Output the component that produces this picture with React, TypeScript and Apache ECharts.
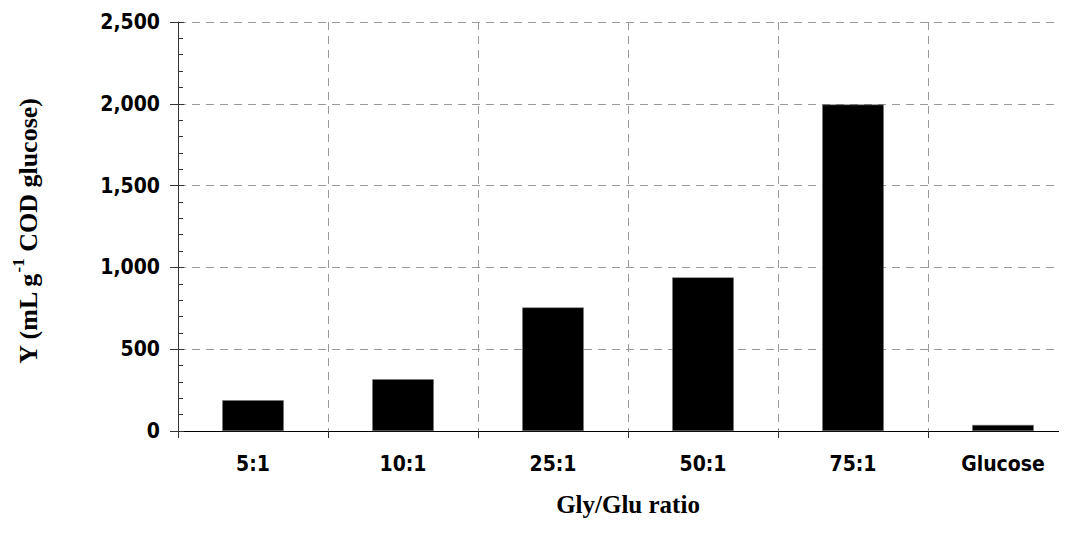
import React, { useEffect, useRef } from "react";
import * as echarts from "echarts";

const categories = ["5:1", "10:1", "25:1", "50:1", "75:1", "Glucose"];
const values = [188, 316, 755, 939, 1995, 37];
const yTicks = [0, 500, 1000, 1500, 2000, 2500];

const fmt = (v: number) => v.toLocaleString("en-US");

export default function App() {
  const ref = useRef<HTMLDivElement>(null);
  useEffect(() => {
    if (!ref.current) return;
    const chart = echarts.init(ref.current, undefined, { renderer: "svg" });
    const labelFont = {
      fontFamily: "'DejaVu Sans Condensed', 'DejaVu Sans'",
      fontWeight: "bold" as const,
      fontSize: 21,
      color: "#000",
    };
    chart.setOption({
      animation: false,
      backgroundColor: "#fff",
      grid: { left: 178, top: 22, right: 0, bottom: 105, containLabel: false },
      xAxis: [
        {
          type: "category",
          data: categories,
          position: "bottom",
          axisLine: { show: true, lineStyle: { color: "#000", width: 1 } },
          axisTick: { show: true, length: 7, lineStyle: { color: "#333" } },
          axisLabel: { ...labelFont, margin: 22 },
          splitLine: {
            show: true,
            lineStyle: { color: "#999", type: [8, 6], width: 1 },
          },
          name: "Gly/Glu ratio",
          nameLocation: "middle",
          nameGap: 61,
          nameTextStyle: {
            fontFamily: "Liberation Serif",
            fontWeight: "bold",
            fontSize: 25,
            color: "#000",
          },
        },
        {
          type: "category",
          data: categories,
          position: "top",
          axisLine: { show: true, lineStyle: { color: "#000", width: 1 } },
          axisTick: { show: false },
          axisLabel: { show: false },
          splitLine: { show: false },
        },
      ],
      yAxis: [
        {
          type: "value",
          min: 0,
          max: 2500,
          interval: 500,
          axisLine: { show: true, lineStyle: { color: "#333", width: 1 } },
          axisTick: { show: true, length: 8, lineStyle: { color: "#333" } },
          axisLabel: {
            ...labelFont,
            margin: 18,
            formatter: (v: number) => (yTicks.includes(v) ? fmt(v) : ""),
          },
          splitLine: {
            show: true,
            lineStyle: { color: "#999", type: [8, 6], width: 1 },
          },
          name: "{a|Y (mL g}{s|-1}{a| COD glucose)}",
          nameLocation: "middle",
          nameGap: 137,
          nameRotate: 90,
          nameTextStyle: {
            fontFamily: "Liberation Serif",
            fontWeight: "bold",
            fontSize: 26,
            color: "#000",
            padding: [0, 10, 0, 0],
            rich: {
              a: {
                fontFamily: "Liberation Serif",
                fontWeight: "bold",
                fontSize: 26,
                color: "#000",
                lineHeight: 31,
                verticalAlign: "bottom",
              },
              s: {
                fontFamily: "Liberation Serif",
                fontWeight: "bold",
                fontSize: 17,
                color: "#000",
                lineHeight: 31,
                verticalAlign: "top",
              },
            },
          },
        },
        {
          type: "value",
          min: 0,
          max: 2500,
          interval: 500,
          position: "left",
          axisLine: { show: false },
          axisTick: { show: true, inside: true, length: 6, lineStyle: { color: "#333" } },
          minorTick: { show: true, splitNumber: 5, length: 5, lineStyle: { color: "#333" } },
          axisLabel: { show: false },
          splitLine: { show: false },
        },
      ],
      series: [
        {
          type: "bar",
          data: values,
          barWidth: "41%",
          itemStyle: { color: "#000", borderColor: "#777", borderWidth: 0.5 },
        },
      ],
    });
    return () => chart.dispose();
  }, []);
  return (
    <div style={{ width: 1067, height: 536, margin: -8, overflow: "hidden", position: "relative" }}>
      <div ref={ref} style={{ width: 1078, height: 536 }} />
    </div>
  );
}
